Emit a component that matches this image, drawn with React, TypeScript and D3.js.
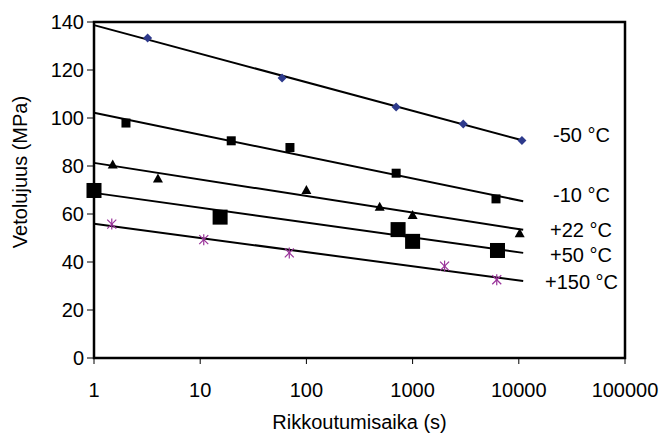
import React from "react";
import * as d3 from "d3";

const width = 662;
const height = 434;
const margin = { top: 22, right: 37, bottom: 76, left: 94 };

const seriesNames = ["-50 °C", "-10 °C", "+22 °C", "+50 °C", "+150 °C"];
const markerKinds = ["diamond", "square", "triangle", "bigsquare", "star"];
const markerColors = ["#2e3a8c", "#000000", "#000000", "#000000", "#993399"];

// measurements: time (s) and strength (MPa)
const times50 = [3.2, 59, 700, 3000, 10700];
const vals50 = [133.3, 116.7, 104.6, 97.5, 90.6];
const times10 = [2, 19.6, 70, 700, 6100];
const vals10 = [97.9, 90.5, 87.7, 77, 66.3];
const times22 = [1.5, 4, 100, 490, 1000, 10200];
const vals22 = [80.6, 74.8, 70, 63, 59.6, 52];
const timesP50 = [1, 15.4, 730, 1000, 6300];
const valsP50 = [69.8, 58.7, 53.5, 48.6, 44.8];
const times150 = [1.47, 10.8, 69, 2000, 6200];
const vals150 = [55.8, 49.3, 43.8, 38.3, 32.6];

// logarithmic trend lines: value at t=1 and at t=11000
const trendStart = [138.7, 102.2, 81.3, 68.8, 55.9];
const trendEnd = [90.6, 65.3, 53.4, 43.8, 32.1];
const trendEndTime = 11000;

const labelY = [135, 195, 230, 255, 282];
const labelX = [553, 553, 550, 550, 545];

const yTicks = [0, 20, 40, 60, 80, 100, 120, 140];
const xTicks = [1, 10, 100, 1000, 10000, 100000];

const allTimes = [times50, times10, times22, timesP50, times150];
const allVals = [vals50, vals10, vals22, valsP50, vals150];

const Marker = ({ kind, x, y, color }: { kind: string; x: number; y: number; color: string }) => {
  if (kind === "diamond") {
    const s = 4.5;
    return <path d={`M${x},${y - s}L${x + s},${y}L${x},${y + s}L${x - s},${y}Z`} fill={color} />;
  }
  if (kind === "square") {
    return <rect x={x - 4.5} y={y - 4.5} width={9} height={9} fill={color} />;
  }
  if (kind === "bigsquare") {
    return <rect x={x - 7.5} y={y - 7.5} width={15} height={15} fill={color} />;
  }
  if (kind === "triangle") {
    return <path d={`M${x},${y - 5}L${x + 5},${y + 4}L${x - 5},${y + 4}Z`} fill={color} />;
  }
  const s = 4.5;
  return (
    <g stroke={color} strokeWidth={1.2}>
      <line x1={x - s} x2={x + s} y1={y - s} y2={y + s} />
      <line x1={x - s} x2={x + s} y1={y + s} y2={y - s} />
      <line x1={x} x2={x} y1={y - s - 1} y2={y + s + 1} />
    </g>
  );
};

const App = () => {
  const innerWidth = width - margin.left - margin.right;
  const innerHeight = height - margin.top - margin.bottom;

  const xScale = d3.scaleLog().domain([1, 100000]).range([0, innerWidth]);
  const yScale = d3.scaleLinear().domain([0, 140]).range([innerHeight, 0]);

  const line = d3
    .line<[number, number]>()
    .x((d) => xScale(d[0]))
    .y((d) => yScale(d[1]));

  const font = "Arial, 'Liberation Sans', sans-serif";

  return (
    <svg
      width={width}
      height={height}
      style={{ position: "absolute", left: 0, top: 0, background: "#fff" }}
      fontFamily={font}
    >
      <g transform={`translate(${margin.left},${margin.top})`}>
        {/* frame */}
        <rect x={0} y={0} width={innerWidth} height={innerHeight} fill="none" stroke="#000" strokeWidth={2.5} />

        {yTicks.map((t) => (
          <g key={t}>
            <line x1={-7} x2={0} y1={yScale(t)} y2={yScale(t)} stroke="#000" strokeWidth={1} />
            <text x={-10} y={yScale(t)} dy="0.35em" textAnchor="end" fontSize={20}>
              {t}
            </text>
          </g>
        ))}
        {xTicks.map((t) => (
          <g key={t}>
            <line x1={xScale(t)} x2={xScale(t)} y1={innerHeight} y2={innerHeight + 6} stroke="#000" strokeWidth={1} />
            <text x={xScale(t)} y={innerHeight + 39} textAnchor="middle" fontSize={20}>
              {t}
            </text>
          </g>
        ))}

        {seriesNames.map((name, i) => (
          <g key={name}>
            <path
              d={line([
                [1, trendStart[i]],
                [trendEndTime, trendEnd[i]],
              ]) as string}
              fill="none"
              stroke="#000"
              strokeWidth={2}
            />
            {allTimes[i].map((t, j) => (
              <Marker key={j} kind={markerKinds[i]} x={xScale(t)} y={yScale(allVals[i][j])} color={markerColors[i]} />
            ))}
          </g>
        ))}
      </g>

      {seriesNames.map((name, i) => (
        <text key={name} x={labelX[i]} y={labelY[i]} dy="0.35em" fontSize={20}>
          {name}
        </text>
      ))}

      <text transform={`translate(27,172) rotate(-90)`} textAnchor="middle" fontSize={20}>
        Vetolujuus (MPa)
      </text>
      <text x={margin.left + (width - margin.left - margin.right) / 2} y={429} textAnchor="middle" fontSize={20}>
        Rikkoutumisaika (s)
      </text>
    </svg>
  );
};

export default App;
